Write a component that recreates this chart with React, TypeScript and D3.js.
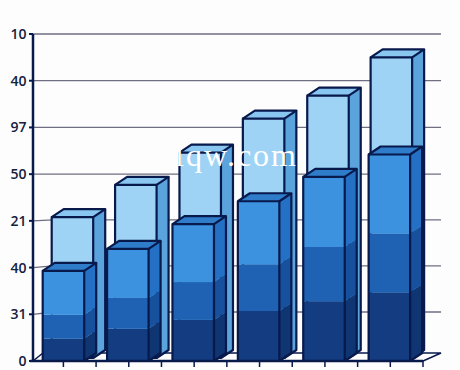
import React from "react";
import * as d3 from "d3";

const W = 460, H = 370;
const categories = ["A", "B", "C", "D", "E", "F"];
const tickLabels = ["0", "31", "40", "21", "50", "97", "40", "10"];
const backTotals = [30.8, 37.7, 44.6, 51.9, 56.8, 65.0];
const darkValues = [4.8, 6.9, 8.8, 10.7, 12.8, 14.7];
const midValues = [5.1, 6.6, 8.1, 10.0, 11.6, 12.6];
const lightValues = [9.4, 10.5, 12.4, 13.5, 15.0, 16.9];
const gridBend = [0, 2.3, 1.6, 1, 0, 0, 0, 0];

const axisX = 33, gridRight = 441;
const y = d3.scaleLinear().domain([0, 70]).range([361, 34]);
const x = d3.scaleBand<string>().domain(categories).range([30.7, 423]);
const DX = 12, DY = 8, BW = 41.5;
const frontOffsets = [12, 11, 11, 11, 11, 11];
const backOffsets = [21, 19, 18, 16, 15, 13];
const backBase = 3;
const outline = "#08194c";
const line = d3.line<[number, number]>();

function Box({ xl, top, bot, face, side, cap }: { xl: number; top: number; bot: number; face: string; side: string; cap?: string }) {
  const xr = xl + BW;
  return (
    <g stroke="none">
      <rect x={xl} y={top} width={BW} height={bot - top} fill={face} />
      <path d={line([[xr, top], [xr + DX, top - DY], [xr + DX, bot - DY], [xr, bot]])! + "Z"} fill={side} />
      {cap && <path d={line([[xl, top], [xl + DX, top - DY], [xr + DX, top - DY], [xr, top]])! + "Z"} fill={cap} />}
    </g>
  );
}

function Edges({ xl, top, bot }: { xl: number; top: number; bot: number }) {
  const xr = xl + BW;
  return (
    <g fill="none" stroke={outline} strokeWidth={2.2} strokeLinejoin="round">
      <rect x={xl} y={top} width={BW} height={bot - top} />
      <path d={line([[xl, top], [xl + DX, top - DY], [xr + DX, top - DY], [xr, top]])!} />
      <path d={line([[xr + DX, top - DY], [xr + DX, bot - DY], [xr, bot]])!} />
    </g>
  );
}

export default function App() {
  return (
    <svg width={W} height={H} style={{ position: "absolute", left: 0, top: 0 }} fontFamily="'Open Sans', sans-serif">
      <rect width={W} height={H} fill="#fdfdfd" />
      {tickLabels.map((_, i) => i > 0 && (
        <path key={i} d={line([[axisX, y(i * 10)], [axisX + 20, y(i * 10) - gridBend[i]], [gridRight, y(i * 10) - gridBend[i]]])!} fill="none" stroke="#6e6e82" strokeWidth={1.3} />
      ))}
      <path d={line([[axisX, 361], [43, 353], [gridRight, 353], [423, 361]])!} fill="#fff" stroke={outline} strokeWidth={1.5} />
      {categories.map((c, i) => {
        const xl = x(c)! + backOffsets[i];
        const bot = 361 - backBase;
        return (
          <g key={c}>
            <Box xl={xl} top={y(backTotals[i])} bot={bot} face="#9fd3f5" side="#5aa3dc" cap="#8ac7f0" />
            <Edges xl={xl} top={y(backTotals[i])} bot={bot} />
          </g>
        );
      })}
      {categories.map((c, i) => {
        const xl = x(c)! + frontOffsets[i];
        const d1 = y(darkValues[i]);
        const d2 = y(darkValues[i] + midValues[i]);
        const d3Top = y(darkValues[i] + midValues[i] + lightValues[i]);
        return (
          <g key={c}>
            <Box xl={xl} top={d1} bot={y(0)} face="#133d80" side="#0f3572" />
            <Box xl={xl} top={d2} bot={d1} face="#1f62b4" side="#17509c" />
            <Box xl={xl} top={d3Top} bot={d2} face="#3c92df" side="#2470c4" cap="#2f7ccb" />
            <Edges xl={xl} top={d3Top} bot={y(0)} />
          </g>
        );
      })}
      <line x1={axisX} x2={axisX} y1={34} y2={361} stroke={outline} strokeWidth={2.5} />
      <line x1={30} x2={423} y1={361} y2={361} stroke={outline} strokeWidth={2.5} />
      {tickLabels.map((t, i) => (
        <g key={i}>
          <line x1={29} x2={axisX} y1={y(i * 10)} y2={y(i * 10)} stroke={outline} strokeWidth={2} />
          <text x={26.5} y={y(i * 10)} dy="0.36em" textAnchor="end" fontSize={14} fontWeight={600} fill="#14213d">{t}</text>
        </g>
      ))}
      {categories.flatMap((c, i) => [x(c)! + x.bandwidth() / 2, x(c)! + x.bandwidth()].map((tx, j) => (
        <line key={`${i}-${j}`} x1={tx} x2={tx} y1={361} y2={367} stroke={outline} strokeWidth={1.5} />
      )))}
      <text x={298} y={166} textAnchor="end" fontFamily="'Liberation Serif', serif" fontSize={32} letterSpacing={2} fill="#fff">lqw.com</text>
    </svg>
  );
}
